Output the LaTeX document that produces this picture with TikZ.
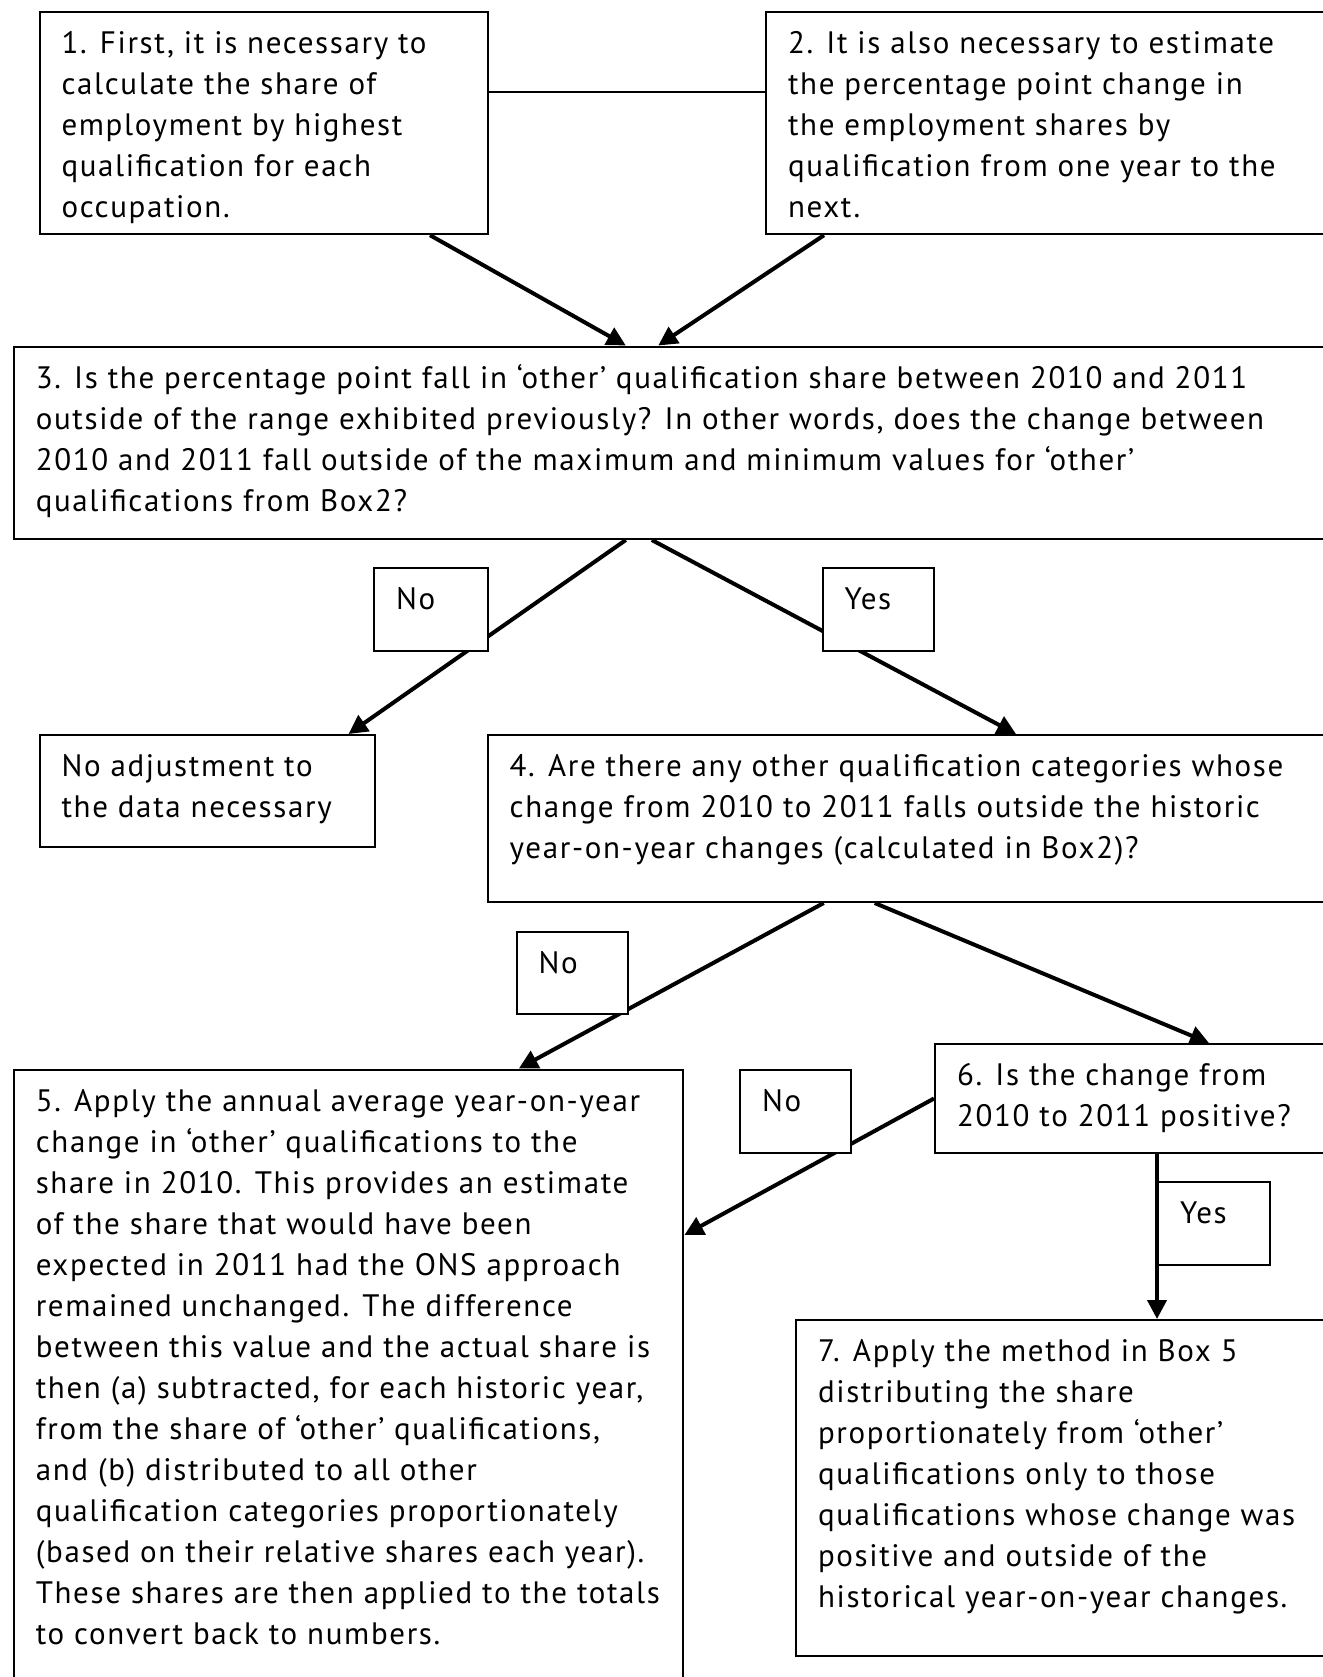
\documentclass[tikz,border=0pt]{standalone}
\usepackage{fontspec}
\setmainfont[LetterSpace=5.3]{PT Sans}
\usetikzlibrary{arrows.meta,calc}
\newlength{\boxpad}\setlength{\boxpad}{22pt}
\newlength{\boxtop}\setlength{\boxtop}{13pt}
% \flowbox{name}{left}{top}{right}{bottom}{lines}
\newcommand{\flowbox}[6]{%
  \pgfmathsetlengthmacro{\bw}{#4-#2}%
  \pgfmathsetlengthmacro{\bh}{#5-#3}%
  \node[stepbox, minimum width=\bw, minimum height=\bh] (#1) at (#2,#3)
    {\parbox[c][\bh][t]{\dimexpr\bw-2\boxpad\relax}{\vspace*{\boxtop}\begin{tabular}[t]{@{}l@{}}#6\end{tabular}}};%
}
\begin{document}
\begin{tikzpicture}[x=1pt, y=-1pt,
  stepbox/.style={draw=black, line width=2pt, fill=white, anchor=north west,
    inner xsep=\boxpad, inner ysep=0pt, font=\fontsize{31}{41}\selectfont},
  arr/.style={line width=4pt, -{Triangle[length=19pt,width=19pt]}},
  link/.style={line width=2pt}]
\useasboundingbox (0,0) rectangle (1322,1677);

% main steps
\flowbox{b1}{38.5}{10.7}{486.7}{233.2}{1. First, it is necessary to\\calculate the share of\\employment by highest\\qualification for each\\occupation.}
\flowbox{b2}{765}{10.7}{1326}{233.2}{2. It is also necessary to estimate\\the percentage point change in\\the employment shares by\\qualification from one year to the\\next.}
\flowbox{b3}{12.8}{345.5}{1326}{538}{3. Is the percentage point fall in ‘other’ qualification share between 2010 and 2011\\outside of the range exhibited previously? In other words, does the change between\\2010 and 2011 fall outside of the maximum and minimum values for ‘other’\\qualifications from Box2?}
\flowbox{nadj}{38.5}{734}{374.4}{846}{No adjustment to\\the data necessary}
\flowbox{b4}{486.7}{734}{1326}{901}{4. Are there any other qualification categories whose\\change from 2010 to 2011 falls outside the historic\\year-on-year changes (calculated in Box2)?}
\flowbox{b6}{934}{1043}{1326}{1152}{6. Is the change from\\2010 to 2011 positive?}
\flowbox{b5}{12.8}{1068.5}{682.4}{1682}{5. Apply the annual average year-on-year\\change in ‘other’ qualifications to the\\share in 2010. This provides an estimate\\of the share that would have been\\expected in 2011 had the ONS approach\\remained unchanged. The difference\\between this value and the actual share is\\then (a) subtracted, for each historic year,\\from the share of ‘other’ qualifications,\\and (b) distributed to all other\\qualification categories proportionately\\(based on their relative shares each year).\\These shares are then applied to the totals\\to convert back to numbers.}
\flowbox{b7}{795}{1319}{1326}{1655}{7. Apply the method in Box 5\\distributing the share\\proportionately from ‘other’\\qualifications only to those\\qualifications whose change was\\positive and outside of the\\historical year-on-year changes.}
\flowbox{yes3}{1157}{1181}{1268.5}{1264}{Yes}

% connectors
\draw[link] ([yshift=31pt]b1.east) -- ([yshift=31pt]b2.west);
\draw[arr] ($(b1.south west)+(391.5,0)$) -- ($(b3.north west)+(613,0)$);
\draw[arr] ($(b2.south west)+(59,0)$) -- ($(b3.north west)+(645.5,0)$);
\draw[arr] ($(b3.south west)+(613,0)$) -- ($(nadj.north west)+(310,0)$);
\draw[arr] ($(b3.south west)+(639,0)$) -- ($(b4.north west)+(529.3,0)$);
\draw[arr] ($(b4.south west)+(337,0)$) -- ($(b5.north west)+(506,0)$);
\draw[arr] ($(b4.south west)+(388,0)$) -- ($(b6.north west)+(275,0)$);
\draw[arr] (b6.west) -- ($(b5.north east)+(0,166.5)$);
\coordinate (v) at ($(b6.south west)+(223,0)$);
\draw[arr] (v) -- (v |- b7.north);

% branch labels laid over the connectors
\flowbox{no1}{373}{567}{487}{650}{No}
\flowbox{yes1}{821.5}{567}{933}{650}{Yes}
\flowbox{no2}{515.5}{930.5}{627}{1013}{No}
\flowbox{no3}{739}{1068.5}{850}{1152}{No}
\end{tikzpicture}
\end{document}
